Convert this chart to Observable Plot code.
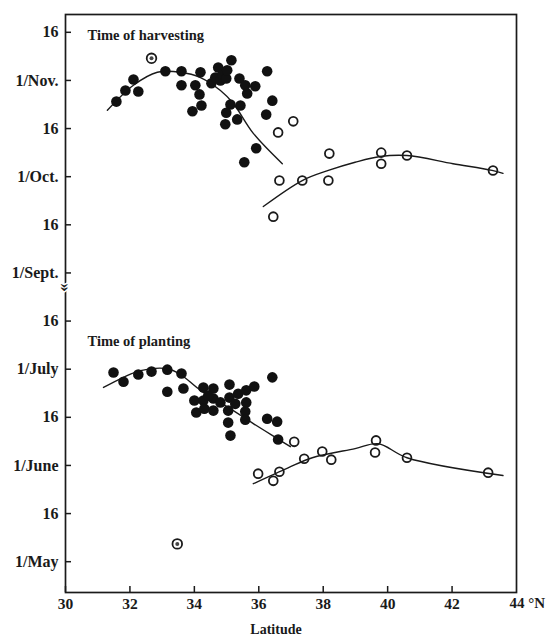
<!DOCTYPE html>
<html><head><meta charset="utf-8">
<script src="https://cdn.jsdelivr.net/npm/d3@7"></script>
<script src="https://cdn.jsdelivr.net/npm/@observablehq/plot@0.6"></script>
<style>body{margin:0;background:#fff;} svg{display:block;}</style>
</head><body><div id="chart"></div>
<script>
// y unit = half-month steps on the broken axis:
// 0 = 1/May, 1 = 16 May, 2 = 1/June, 3 = 16 June, 4 = 1/July, 5 = 16 July,
// (axis break) 6 = 1/Sept, 7 = 16 Sept, 8 = 1/Oct, 9 = 16 Oct, 10 = 1/Nov, 11 = 16 Nov
const yTickValues = [0,1,2,3,4,5,6,7,8,9,10,11];
const yTickLabels = ["1/May","16","1/June","16","1/July","16","1/Sept.","16","1/Oct.","16","1/Nov.","16"];
const xTickValues = [30,32,34,36,38,40,42];
const xLastTick = [44];
const xLastLabel = "44 °N";
const xTitle = "Latitude";
const panelTitles = ["Time of harvesting", "Time of planting"];

// Time of harvesting — southern group (filled dots): [latitude, date]
const harvestFilled = [
  [31.58,9.56],[31.86,9.79],[32.11,10.02],[32.26,9.77],[33.10,10.19],[33.60,10.19],
  [33.60,9.90],[34.03,9.90],[34.16,9.71],[34.22,9.48],[33.94,9.36],[34.19,10.17],
  [34.53,9.94],[34.65,10.06],[34.74,10.27],[34.81,10.00],[34.87,10.12],[34.99,10.04],
  [35.02,10.21],[35.15,10.42],[35.40,10.04],[35.58,9.90],[35.89,9.88],[35.64,9.73],
  [36.26,10.19],[35.12,9.50],[35.43,9.48],[34.99,9.33],[35.33,9.19],[34.96,9.09],
  [36.23,9.29],[36.42,9.58],[35.92,8.59],[35.55,8.30]
];
// Time of harvesting — northern group (open circles)
const harvestOpen = [
  [37.07,9.15],[36.60,8.92],[38.19,8.48],[36.64,7.92],[37.35,7.92],[38.16,7.92],
  [36.45,7.17],[39.80,8.50],[39.80,8.27],[40.60,8.44],[43.27,8.13]
];
const harvestSpecial = [[32.67,10.46]];
// fitted curves
const harvestFilledCurve = [
  [31.30,9.38],[32.11,9.90],[32.85,10.17],[33.57,10.17],[34.19,10.06],[34.81,9.79],
  [35.21,9.52],[35.83,8.90],[36.73,8.27]
];
const harvestOpenCurve = [
  [36.14,7.38],[37.35,7.92],[38.16,8.13],[38.99,8.30],[39.77,8.42],[40.60,8.44],
  [42.03,8.27],[43.24,8.13],[43.58,8.07]
];

// Time of planting — southern group (filled dots)
const plantFilled = [
  [31.49,3.93],[31.80,3.74],[32.26,3.89],[32.67,3.95],[33.16,3.99],[33.60,3.91],
  [33.16,3.53],[33.66,3.60],[34.00,3.35],[34.06,3.10],[34.28,3.62],[34.28,3.35],
  [34.31,3.18],[34.59,3.60],[34.59,3.39],[34.59,3.14],[34.81,3.31],[35.09,3.68],
  [35.09,3.41],[35.05,3.14],[35.05,2.89],[35.12,2.62],[35.36,3.49],[35.27,3.28],
  [35.61,3.56],[35.61,3.31],[35.58,3.12],[35.58,2.95],[35.86,3.64],[36.42,3.83],
  [36.26,2.97],[36.57,2.91],[36.60,2.54],[34.43,3.45]
];
// Time of planting — northern group (open circles)
const plantOpen = [
  [37.10,2.49],[35.98,1.83],[36.45,1.68],[36.64,1.87],[37.41,2.14],[37.97,2.29],
  [38.25,2.12],[39.64,2.52],[39.61,2.27],[40.60,2.16],[43.12,1.85]
];
const plantSpecial = [[33.47,0.37]];
const plantFilledCurve = [
  [31.18,3.62],[31.80,3.83],[32.33,3.97],[33.16,4.01],[33.57,3.89],[34.19,3.56],
  [35.21,3.14],[35.83,2.87],[36.67,2.52],[36.98,2.39]
];
const plantOpenCurve = [
  [35.83,1.62],[36.91,1.95],[37.66,2.16],[38.99,2.35],[39.71,2.45],[40.60,2.16],
  [43.58,1.79]
];

const ink = "#1a1a1a";
const font = "'Liberation Serif', 'DejaVu Serif', serif";
const X = d => d[0], Y = d => d[1];

const chart = Plot.plot({
  width: 548,
  height: 635,
  marginLeft: 65,
  marginRight: 32,
  marginTop: 14,
  marginBottom: 43,
  style: {fontFamily: font, background: "white", color: ink},
  x: {domain: [30, 44]},
  y: {domain: [-0.64, 11.37]},
  marks: [
    Plot.frame({stroke: ink, strokeWidth: 1.7}),
    Plot.axisX({ticks: xTickValues, tickSize: -6, tickPadding: 11, tickFormat: d => String(d),
      fontSize: 15.5, fontWeight: "bold", label: null, strokeWidth: 1.5}),
    Plot.axisX({ticks: xLastTick, tickSize: -6, tickFormat: () => "", label: null}),
    Plot.text(xLastTick, {x: d => d, frameAnchor: "bottom", text: () => xLastLabel,
      textAnchor: "start", lineAnchor: "top", dx: -7, dy: 5, fontSize: 15, fontWeight: "bold", fill: ink}),
    Plot.text([xTitle], {frameAnchor: "bottom", text: d => d, lineAnchor: "bottom",
      dy: 41, dx: -15, fontSize: 14, fontWeight: "bold", fill: ink}),
    Plot.axisY({ticks: yTickValues, tickSize: -6, tickPadding: 13,
      tickFormat: d => yTickLabels[yTickValues.indexOf(d)],
      fontSize: 16, fontWeight: "bold", label: null, strokeWidth: 1.5}),
    // axis break symbol
    Plot.text(["»"], {x: 30, y: 5.7, text: d => d, rotate: 90, fontSize: 17, fontWeight: "bold",
      fill: ink, stroke: "white", strokeWidth: 3, paintOrder: "stroke"}),
    Plot.text([panelTitles[0]], {x: 30, y: 10.94, dx: 22, text: d => d, textAnchor: "start",
      fontSize: 14.5, fontWeight: "bold", fill: ink}),
    Plot.text([panelTitles[1]], {x: 30, y: 4.58, dx: 22, text: d => d, textAnchor: "start",
      fontSize: 14.5, fontWeight: "bold", fill: ink}),
    // curves
    Plot.line(harvestFilledCurve, {x: X, y: Y, curve: "catmull-rom", stroke: ink, strokeWidth: 1.4}),
    Plot.line(harvestOpenCurve, {x: X, y: Y, curve: "catmull-rom", stroke: ink, strokeWidth: 1.4}),
    Plot.line(plantFilledCurve, {x: X, y: Y, curve: "catmull-rom", stroke: ink, strokeWidth: 1.4}),
    Plot.line(plantOpenCurve, {x: X, y: Y, curve: "catmull-rom", stroke: ink, strokeWidth: 1.4}),
    // points
    Plot.dot(harvestFilled, {x: X, y: Y, r: 5.3, fill: "#111", stroke: "none"}),
    Plot.dot(plantFilled, {x: X, y: Y, r: 5.3, fill: "#111", stroke: "none"}),
    Plot.dot(harvestOpen, {x: X, y: Y, r: 4.4, fill: "none", stroke: ink, strokeWidth: 1.8}),
    Plot.dot(plantOpen, {x: X, y: Y, r: 4.4, fill: "none", stroke: ink, strokeWidth: 1.8}),
    Plot.dot(harvestSpecial.concat(plantSpecial), {x: X, y: Y, r: 4.8, fill: "white", stroke: ink, strokeWidth: 1.8}),
    Plot.dot(harvestSpecial.concat(plantSpecial), {x: X, y: Y, r: 2, fill: "#444", stroke: "none"})
  ]
});
document.getElementById("chart").appendChild(chart);
</script>
</body></html>
